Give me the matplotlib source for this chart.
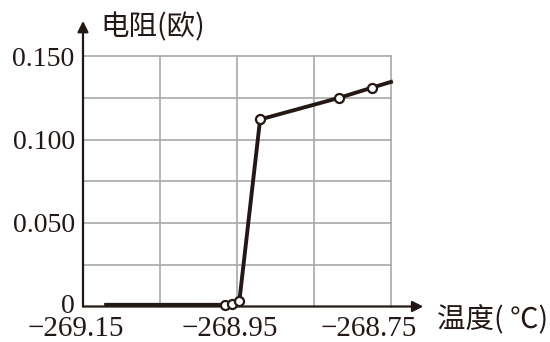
import matplotlib
matplotlib.use("Agg")
import matplotlib.pyplot as plt
import matplotlib.transforms as mtransforms

# temperature (C) and resistance (ohm)
temp = [-269.12, -268.966, -268.957, -268.947, -268.92, -268.817, -268.775, -268.75]
resist = [0.001, 0.001, 0.0015, 0.003, 0.112, 0.125, 0.131, 0.1345]
# which points carry an open circle
marked = [False, True, True, True, True, True, True, False]

x_grid = [-269.15, -269.05, -268.95, -268.85, -268.75]
x_labels = ["\u2212269.15", "\u2212268.95", "\u2212268.75"]
x_label_pos = [-269.15, -268.95, -268.75]
y_grid = [0, 0.025, 0.05, 0.075, 0.1, 0.125, 0.15]
y_labels = ["0", "", "0.050", "", "0.100", "", "0.150"]

ink = "#231815"
num_font = "Liberation Serif"
cjk_font = ["Noto Sans CJK SC", "DejaVu Sans"]

fig = plt.figure(figsize=(5.5, 3.42), dpi=100)
ax = fig.add_axes([83 / 550, (342 - 306.5) / 342, 308 / 550, (306.5 - 56) / 342])

ax.set_xlim(-269.15, -268.75)
ax.set_ylim(0, 0.15)

# grid
for xv in x_grid[1:]:
    ax.axvline(xv, color="#a8a8a8", lw=1.2, zorder=1, clip_on=False)
for yv in y_grid[1:]:
    ax.axhline(yv, color="#a8a8a8", lw=1.2, zorder=1, clip_on=False)

for s in ax.spines.values():
    s.set_visible(False)
ax.set_xticks([])
ax.set_yticks(y_grid)
ax.set_yticklabels(y_labels, fontfamily=num_font, fontsize=20, color=ink)
ax.tick_params(axis="y", length=0, pad=6)
# the "0" sits a little above the axis in the original
zero_lab = ax.get_yticklabels()[0]
zero_lab.set_transform(zero_lab.get_transform() + mtransforms.ScaledTranslation(0, 3 / 100, fig.dpi_scale_trans))

# x tick labels, shifted a little left like the original
shifts = [-7, -7, -22]
below = mtransforms.ScaledTranslation(0, -29.5 / 100, fig.dpi_scale_trans)
for xv, lab, sh in zip(x_label_pos, x_labels, shifts):
    tr = mtransforms.offset_copy(ax.transData, fig=fig, x=sh, y=0, units="dots")
    ax.text(xv, 0, lab, transform=mtransforms.blended_transform_factory(tr, ax.transAxes + below),
            ha="center", va="baseline", fontfamily=num_font, fontsize=21, color=ink)

# axes with arrows
ax.annotate("", xy=(0, 1.14), xytext=(0, 0), xycoords="axes fraction",
            arrowprops=dict(arrowstyle="-|>", lw=1.6, color=ink, mutation_scale=16, shrinkA=0, shrinkB=0),
            annotation_clip=False, zorder=3)
ax.annotate("", xy=(1.105, 0), xytext=(0, 0), xycoords="axes fraction",
            arrowprops=dict(arrowstyle="-|>", lw=1.6, color=ink, mutation_scale=16, shrinkA=0, shrinkB=0),
            annotation_clip=False, zorder=3)

# data line
ax.plot(temp, resist, color=ink, lw=2.8, zorder=4, clip_on=False, solid_joinstyle="miter")
mx = [t for t, m in zip(temp, marked) if m]
my = [r for r, m in zip(resist, marked) if m]
ax.plot(mx, my, "o", ms=6.5, mfc="white", mec=ink, mew=1.6, zorder=5, clip_on=False)

# axis titles
fig.text(100 / 550, 1 - 27 / 342, "电阻(欧)", ha="left", va="center",
         family=cjk_font, fontsize=20.5, color=ink)
fig.text(437 / 550, 1 - 320 / 342, "温度( ℃)", ha="left", va="center",
         family=cjk_font, fontsize=20.5, color=ink)

fig.savefig("out.png", dpi=100)
